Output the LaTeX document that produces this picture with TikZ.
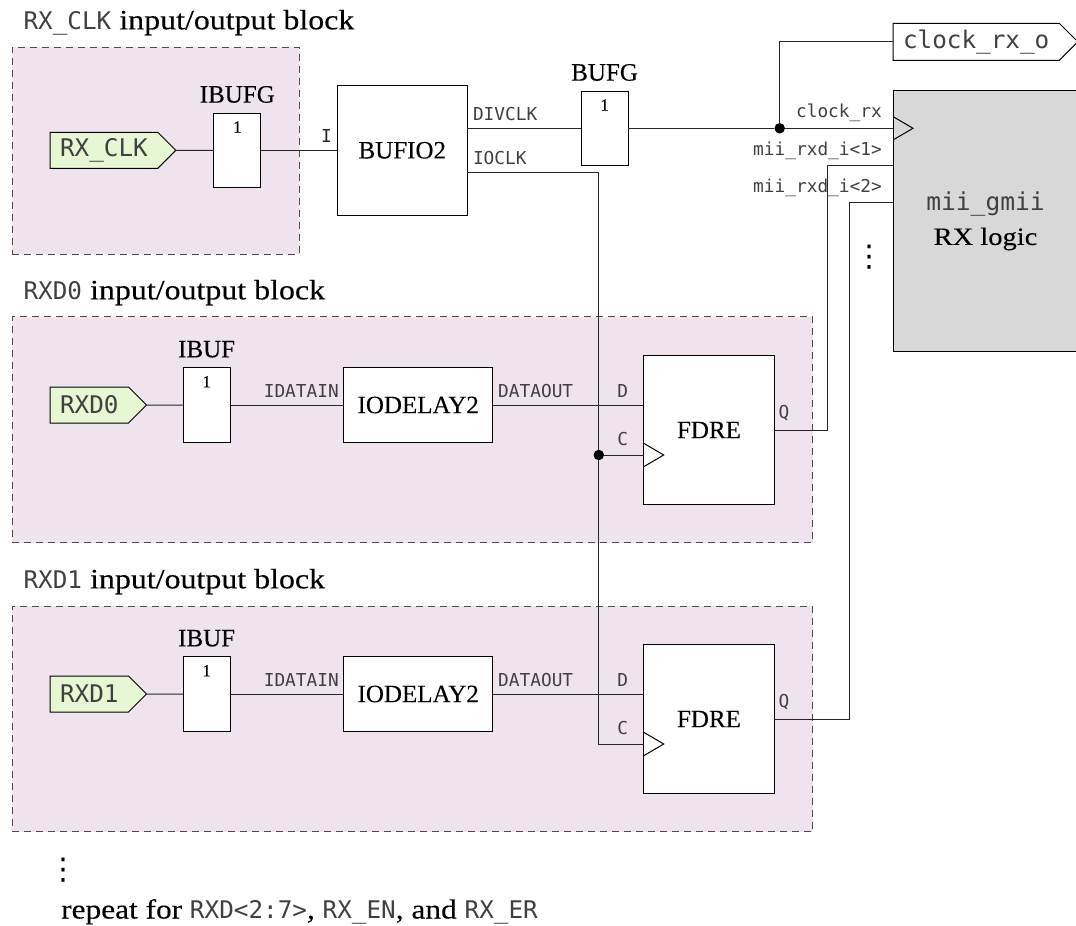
\documentclass[tikz,border=0pt]{standalone}
\usepackage{fontspec}
\setmainfont[FakeBold=0.25]{Liberation Serif}
\setmonofont{DejaVu Sans Mono}
\newfontfamily\wideserif[FakeStretch=1.14,FakeBold=0.25]{Liberation Serif}
\newfontfamily\dotsfont{DejaVu Sans}
\usetikzlibrary{positioning, shapes.symbols}
\definecolor{blockfill}{HTML}{EFE4EE}
\definecolor{pinfill}{HTML}{E6F7D3}
\definecolor{logicfill}{HTML}{D8D8D8}
\newcommand{\sigbig}{\ttfamily\fontsize{24.3}{30}\selectfont\color{black!75}}
\newcommand{\sigsmall}{\ttfamily\fontsize{17.8}{22}\selectfont\color{black!75}}
\newcommand{\titletext}{\wideserif\fontsize{28}{34}\selectfont}
\newcommand{\clockmark}[1]{\draw[line width=1pt] ([yshift=11.7pt]#1) -- ([xshift=20pt]#1) -- ([yshift=-11.7pt]#1);}
\tikzset{
  ioblock/.style={
    rectangle,
    draw=black!70,
    dashed,
    dash pattern=on 7pt off 5pt,
    fill=blockfill,
    line width=1pt
  },
  box/.style={
    rectangle,
    draw,
    fill=white,
    align=center,
    inner sep=0pt,
    outer sep=0pt,
    line width=1pt,
    font=\fontsize{25}{30}\selectfont
  },
  bufbox/.style={
    box,
    minimum width=47pt,
    minimum height=74.5pt
  },
  pinbox/.style={
    signal,
    signal to=east,
    signal pointer angle=90,
    draw,
    fill=pinfill,
    inner xsep=10pt,
    inner ysep=0pt,
    outer sep=0pt,
    minimum height=36pt,
    line width=1pt,
    font=\sigbig
  },
  wire/.style={line width=1pt, black!85},
  note/.style={inner sep=0pt, font=\sigsmall},
  heading/.style={anchor=base west, inner sep=0pt, font=\titletext},
  onemark/.style={font=\fontsize{17}{20}\selectfont, inner sep=0pt, anchor=center, yshift=-14pt},
  bufname/.style={font=\fontsize{25}{30}\selectfont, inner sep=0pt, yshift=10pt},
  joint/.style={circle, fill=black, inner sep=0pt, minimum size=10.5pt},
  moredots/.style={inner sep=0pt, font=\dotsfont\fontsize{30}{32}\selectfont}
}
\begin{document}
\begin{tikzpicture}[x=1pt, y=-1pt]
\useasboundingbox (0,0) rectangle (1076,926);

\node[ioblock, minimum width=287pt, minimum height=207pt] (clkblock) at (155.5,150.5) {};
\node[ioblock, minimum width=800.8pt, minimum height=225.7pt] (rxd0block) at (412.4,429.8) {};
\node[ioblock, minimum width=800.8pt, minimum height=225.4pt] (rxd1block) at (412.4,719) {};

\node[heading] (clktitle) at (23.4,29.3) {{\sigbig RX\_CLK} input/output block};
\node[heading] (rxd0title) at (23.4,299.3) {{\sigbig RXD0} input/output block};
\node[heading] (rxd1title) at (23.4,588.3) {{\sigbig RXD1} input/output block};

% clock path
\node[pinbox, anchor=west] (rxclk) at (50,150.3) {RX\_CLK};
\node[bufbox, right=38pt of rxclk, label={[bufname]above:IBUFG}, label={[onemark]90:1}] (ibufg) {};
\node[box, right=76.5pt of ibufg, minimum width=130pt, minimum height=130pt] (bufio) {BUFIO2};
\node[bufbox, right=113.8pt of bufio, yshift=22pt, label={[bufname]above:BUFG}, label={[onemark]90:1}] (bufg) {};
\node[box, fill=logicfill, minimum width=185pt, minimum height=260.7pt] (rxlogic) at (985.5,221.3) {{\sigbig\fontsize{24.6}{30}\selectfont mii\_gmii}\\[4pt]{\wideserif\fontsize{25}{30}\selectfont RX logic}};
\node[pinbox, fill=white, anchor=west, minimum height=37pt] (clockout) at (893,41.8) {clock\_rx\_o};
\node[joint] (clkjoint) at (779.7,128.3) {};

% data path 0
\node[pinbox, anchor=west] (rxd0) at (50,405) {RXD0};
\node[bufbox, right=36.6pt of rxd0, label={[bufname]above:IBUF}, label={[onemark]90:1}] (ibuf0) {};
\node[box, right=113.6pt of ibuf0, minimum width=149pt, minimum height=74.5pt] (iodelay0) {IODELAY2};
\node[box, right=151pt of iodelay0, yshift=-25pt, minimum width=130.5pt, minimum height=149pt] (fdre0) {FDRE};
\node[joint] (datajoint) at (598.8,455) {};

% data path 1
\node[pinbox, anchor=west] (rxd1) at (50,694) {RXD1};
\node[bufbox, right=36.6pt of rxd1, label={[bufname]above:IBUF}, label={[onemark]90:1}] (ibuf1) {};
\node[box, right=113.6pt of ibuf1, minimum width=149pt, minimum height=74.5pt] (iodelay1) {IODELAY2};
\node[box, right=151pt of iodelay1, yshift=-25pt, minimum width=130.5pt, minimum height=149pt] (fdre1) {FDRE};

\coordinate (fdre0clk) at ([yshift=-25pt]fdre0.west);
\coordinate (fdre1clk) at ([yshift=-25pt]fdre1.west);
\coordinate (miirxd1) at (893,165.3);
\coordinate (miirxd2) at (893,202.7);
\coordinate (turn1) at (827,165.3);
\coordinate (turn2) at (849.4,202.7);

\draw[wire] (rxclk) -- (ibufg);
\draw[wire] (ibufg) -- node[note, pos=1, above left=7pt and 5pt] (inlabel) {I} (bufio);
\draw[wire] (bufg -| bufio.east) -- (bufg);
\draw[wire] (bufg) -- (clkjoint);
\draw[wire] (clkjoint) -- (clkjoint -| rxlogic.west);
\draw[wire] (clkjoint) |- (clockout);
\draw[wire] ([yshift=-22pt]bufio.east) -| (datajoint);
\draw[wire] (datajoint) |- (fdre1clk);
\draw[wire] (datajoint) -- (fdre0clk);

\draw[wire] (rxd0) -- (ibuf0);
\draw[wire] (ibuf0) -- (iodelay0);
\draw[wire] (iodelay0) -- (iodelay0 -| fdre0.west);
\draw[wire] (fdre0) -| (turn1) -- (miirxd1);

\draw[wire] (rxd1) -- (ibuf1);
\draw[wire] (ibuf1) -- (iodelay1);
\draw[wire] (iodelay1) -- (iodelay1 -| fdre1.west);
\draw[wire] (fdre1) -| (turn2) -- (miirxd2);

\clockmark{clkjoint -| rxlogic.west}
\clockmark{fdre0clk}
\clockmark{fdre1clk}

\node[note, anchor=west] (divclk) at (472.8,114.3) {DIVCLK};
\node[note, anchor=west] (ioclk) at (472.8,157.7) {IOCLK};
\node[note, anchor=east] (clockrx) at (882,113) {clock\_rx};
\node[note, anchor=east] (mii1) at (882,150.7) {mii\_rxd\_i<1>};
\node[note, anchor=east] (mii2) at (882,188.3) {mii\_rxd\_i<2>};

\node[note, anchor=east] (idatain0) at (339,390.7) {IDATAIN};
\node[note, anchor=west] (dataout0) at (498,390.7) {DATAOUT};
\node[note] (d0) at (622.7,390.7) {D};
\node[note] (c0) at (622.7,439.3) {C};
\node[note] (q0) at (784,412.7) {Q};

\node[note, anchor=east] (idatain1) at (339,679.7) {IDATAIN};
\node[note, anchor=west] (dataout1) at (498,679.7) {DATAOUT};
\node[note] (d1) at (622.7,679.7) {D};
\node[note] (c1) at (622.7,728) {C};
\node[note] (q1) at (784,701.7) {Q};

\node[moredots] (logicdots) at (869,257) {⋮};
\node[moredots] (listdots) at (63.4,870) {⋮};
\node[heading, font=\wideserif\fontsize{27.5}{34}\selectfont] (repeatnote) at (61,918.5) {repeat for {\sigbig RXD<2:7>}, {\sigbig RX\_EN}, and {\sigbig RX\_ER}};
\end{tikzpicture}
\end{document}
